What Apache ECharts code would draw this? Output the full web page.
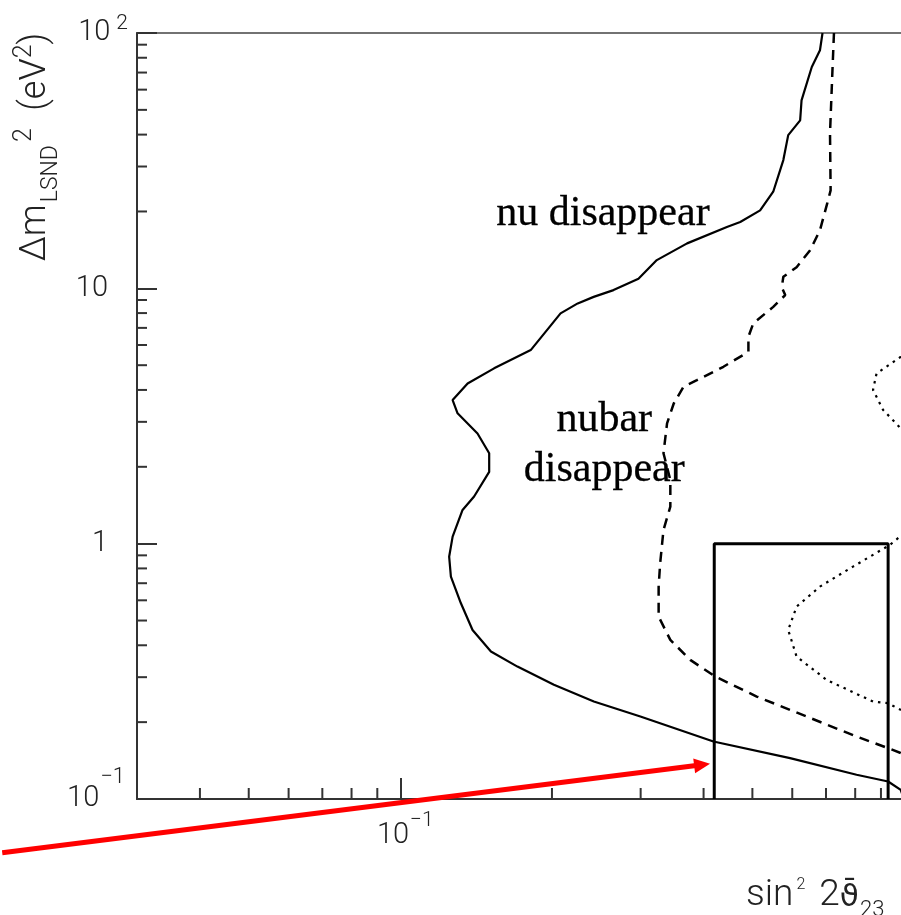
<!DOCTYPE html>
<html>
<head>
<meta charset="utf-8">
<title>nu / nubar disappearance</title>
<script src="https://cdn.jsdelivr.net/npm/echarts@6.0.0/dist/echarts.min.js"></script>
<style>
html, body { margin: 0; padding: 0; background: #fff; }
#chart { width: 901px; height: 915px; }
</style>
</head>
<body>
<div id="chart"></div>
<script>
// axis ranges (log scales)
var X_MIN = 0.03, X_MAX = 1, Y_MIN = 0.1, Y_MAX = 100;

// solid curve: "nu disappear"  [sin^2 2theta, dm^2]
var nuDisappear = [
  [0.689, 100], [0.681, 85.6], [0.656, 73.6], [0.626, 54.5], [0.622, 45.5], [0.589, 39.8],
  [0.576, 31.8], [0.550, 23.9], [0.518, 20.2], [0.473, 18.2], [0.445, 17.4], [0.371, 15.0],
  [0.323, 12.9], [0.297, 10.9], [0.265, 9.84], [0.242, 9.26], [0.225, 8.73], [0.208, 7.98],
  [0.1815, 5.73], [0.1535, 4.86], [0.136, 4.24], [0.127, 3.65], [0.1299, 3.24], [0.1423, 2.70],
  [0.1501, 2.26], [0.1501, 1.91], [0.1401, 1.53], [0.1329, 1.355], [0.127, 1.065], [0.125, 0.889],
  [0.126, 0.743], [0.1319, 0.584], [0.1391, 0.459], [0.1513, 0.378], [0.1708, 0.330], [0.2018, 0.280],
  [0.2422, 0.2408], [0.2996, 0.2103], [0.4184, 0.1679], [0.594, 0.1446], [0.805, 0.1244],
  [0.930, 0.1171], [0.985, 0.1086], [1.0, 0.1]
];

// dashed curve: "nubar disappear"
var nubarDisappear = [
  [0.726, 100], [0.721, 71.4], [0.713, 40.5], [0.715, 24.2], [0.704, 21.5], [0.681, 16.9],
  [0.651, 14.1], [0.612, 12.1], [0.576, 11.1], [0.572, 10.1], [0.581, 9.41], [0.550, 8.46],
  [0.502, 7.29], [0.491, 6.46], [0.491, 5.64], [0.438, 4.93], [0.388, 4.37], [0.365, 4.12],
  [0.349, 3.54], [0.3385, 2.96], [0.333, 2.26], [0.3436, 1.776], [0.3436, 1.396], [0.333, 1.131],
  [0.328, 0.838], [0.3257, 0.679], [0.3257, 0.518], [0.3436, 0.420], [0.3763, 0.3506],
  [0.4217, 0.3017], [0.510, 0.2519], [0.641, 0.2103], [0.805, 0.1757], [0.930, 0.1582],
  [0.985, 0.1513], [1.0, 0.145]
];

// dotted curve, two pieces that leave through the right edge
var dottedUpper = [
  [1.0, 5.75], [0.985, 5.39], [0.882, 4.64], [0.868, 4.00], [0.909, 3.34], [0.985, 2.83], [1.0, 2.72]
];
var dottedLower = [
  [1.0, 1.10], [0.985, 1.072], [0.937, 0.988], [0.792, 0.813], [0.681, 0.679], [0.612, 0.567],
  [0.589, 0.459], [0.612, 0.361], [0.702, 0.2927], [0.868, 0.2408], [0.930, 0.2372],
  [0.985, 0.2234], [1.0, 0.215]
];

// rectangle
var boxX = [0.42, 0.93];
var boxY = [0.1, 1];

// red arrow (from, to)
var arrowFrom = [0.0162, 0.0616];
var arrowTo = [0.412, 0.1373];

// annotations
var noteText = ['nu disappear', 'nubar\ndisappear'];
var notePos = [[0.155, 19.5], [0.254, 2.43]];

// minor ticks
var xMinorTicks = [0.04, 0.05, 0.06, 0.07, 0.08, 0.09, 0.2, 0.3, 0.4, 0.5, 0.6, 0.7, 0.8, 0.9];
var yMinorTicks = [0.2, 0.3, 0.4, 0.5, 0.6, 0.7, 0.8, 0.9, 2, 3, 4, 5, 6, 7, 8, 9,
                   20, 30, 40, 50, 60, 70, 80, 90];

var AX = '#333';
var LBL_FONT = 'Roboto, "Liberation Sans", sans-serif';

var chart = echarts.init(document.getElementById('chart'));

function yLabel(v) {
    var e = Math.round(Math.log10(v));
    if (e === 2) return '{n|10}{s2|2}';
    if (e === 1) return '{n|10}{sp| }';
    if (e === 0) return '{n|1}{sp| }';
    if (e === -1) return '{n|10}{s1|\u22121}';
    return '';
}
function xLabel(v) {
    var e = Math.round(Math.log10(v));
    if (Math.abs(Math.log10(v) - e) > 1e-6) return '';
    if (e === -1) return '{n|10}{s|\u22121}';
    return '';
}

function tickSeries(values, horizontal) {
    return {
        type: 'custom',
        silent: true,
        data: values.map(function (v) { return horizontal ? [v, Y_MIN] : [X_MIN, v]; }),
        renderItem: function (params, api) {
            var p = api.coord([api.value(0), api.value(1)]);
            return {
                type: 'line',
                shape: horizontal
                    ? { x1: p[0], y1: p[1], x2: p[0], y2: p[1] - 11 }
                    : { x1: p[0], y1: p[1], x2: p[0] + 10, y2: p[1] },
                style: { stroke: AX, lineWidth: 2 }
            };
        }
    };
}

var option = {
    backgroundColor: '#fff',
    animation: false,
    grid: {
        left: 137, top: 33, right: -3, bottom: 116,
        show: true, borderColor: '#444', borderWidth: 1.5, backgroundColor: 'transparent',
        containLabel: false, outerBoundsMode: 'none'
    },
    xAxis: {
        type: 'log', logBase: 10, min: X_MIN, max: X_MAX, position: 'bottom',
        axisLine: { show: true, lineStyle: { color: AX, width: 2 } },
        axisTick: { show: true, inside: true, length: 21, lineStyle: { color: AX, width: 2 } },
        splitLine: { show: false },
        axisLabel: {
            show: true, margin: 23, formatter: xLabel, color: '#222',
            showMinLabel: true, showMaxLabel: true,
            rich: {
                n: { fontSize: 29, lineHeight: 28, fontFamily: LBL_FONT, fontWeight: 300, color: '#222', padding: [0, 0, 0, 10] },
                s: { fontSize: 21, lineHeight: 28, fontFamily: LBL_FONT, fontWeight: 300, color: '#222', padding: [0, 0, 30, 1] }
            }
        }
    },
    yAxis: {
        type: 'log', logBase: 10, min: Y_MIN, max: Y_MAX, position: 'left',
        axisLine: { show: true, lineStyle: { color: AX, width: 2 } },
        axisTick: { show: true, inside: true, length: 20, lineStyle: { color: AX, width: 2 } },
        splitLine: { show: false },
        axisLabel: {
            show: true, margin: 9, formatter: yLabel, color: '#222',
            showMinLabel: true, showMaxLabel: true,
            rich: {
                n: { fontSize: 29, lineHeight: 28, fontFamily: LBL_FONT, fontWeight: 300, color: '#222' },
                s2: { fontSize: 21, lineHeight: 28, fontFamily: LBL_FONT, fontWeight: 300, color: '#222', padding: [0, 0, 18, 6] },
                s1: { fontSize: 22, lineHeight: 28, fontFamily: LBL_FONT, fontWeight: 300, color: '#222', padding: [0, 3, 44, 1] },
                sp: { width: 20, fontSize: 28, lineHeight: 28 }
            }
        }
    },
    graphic: [
        {
            type: 'text', x: 36, y: 147, rotation: Math.PI / 2, silent: true,
            style: {
                text: '{m|\u0394m}{sub|LSND}{sup|2}{m|  (eV}{sup|2}{m|)}',
                align: 'center', verticalAlign: 'middle',
                rich: {
                    m: { fontSize: 36, lineHeight: 36, fontFamily: LBL_FONT, fontWeight: 300, fill: '#222' },
                    sub: { fontSize: 23, lineHeight: 36, fontFamily: LBL_FONT, fontWeight: 300, fill: '#222', padding: [30, 3, 0, 2] },
                    sup: { fontSize: 25, lineHeight: 36, fontFamily: LBL_FONT, fontWeight: 300, fill: '#222', padding: [0, 0, 22, 0] }
                }
            }
        },
        {
            type: 'text', x: 746, y: 896, silent: true,
            style: {
                text: '{m|sin}{sup|2}{m2|2}{th|\u03D1\u0304}{sub|23}',
                align: 'left', verticalAlign: 'middle',
                rich: {
                    m: { fontSize: 37, lineHeight: 37, fontFamily: LBL_FONT, fontWeight: 300, fill: '#222' },
                    m2: { fontSize: 37, lineHeight: 37, fontFamily: LBL_FONT, fontWeight: 300, fill: '#222', padding: [0, 0, 0, 14] },
                    th: { fontSize: 31, lineHeight: 37, fontFamily: '"DejaVu Sans"', fill: '#222', padding: [4, 0, 0, 0] },
                    sup: { fontSize: 16, lineHeight: 37, fontFamily: LBL_FONT, fontWeight: 300, fill: '#222', padding: [0, 0, 22, 3] },
                    sub: { fontSize: 22, lineHeight: 37, fontFamily: LBL_FONT, fontWeight: 300, fill: '#222', padding: [28, 0, 0, 1] }
                }
            }
        }
    ],
    series: [
        {
            type: 'line', name: 'box', showSymbol: false, silent: true,
            data: [[boxX[0], boxY[0]], [boxX[0], boxY[1]], [boxX[1], boxY[1]], [boxX[1], boxY[0]]],
            lineStyle: { color: '#000', width: 3 }, z: 3
        },
        {
            type: 'line', name: 'nu disappear', showSymbol: false, silent: true,
            data: nuDisappear,
            lineStyle: { color: '#000', width: 2.2 }, z: 4
        },
        {
            type: 'line', name: 'nubar disappear', showSymbol: false, silent: true,
            data: nubarDisappear,
            lineStyle: { color: '#000', width: 2.5, type: [10, 7] }, z: 4
        },
        {
            type: 'line', name: 'dotted 1', showSymbol: false, silent: true,
            data: dottedUpper,
            lineStyle: { color: '#000', width: 2.2, type: [2.5, 5] }, z: 4
        },
        {
            type: 'line', name: 'dotted 2', showSymbol: false, silent: true,
            data: dottedLower,
            lineStyle: { color: '#000', width: 2.2, type: [2.5, 5] }, z: 4
        },
        tickSeries(xMinorTicks, true),
        tickSeries(yMinorTicks, false),
        {
            // annotation texts placed at data coordinates
            type: 'custom', silent: true, clip: false, z: 5,
            data: notePos.map(function (p, i) { return [p[0], p[1], i]; }),
            renderItem: function (params, api) {
                var i = api.value(2);
                var p = api.coord([api.value(0), api.value(1)]);
                return {
                    type: 'text', x: p[0], y: p[1],
                    style: {
                        text: noteText[i],
                        fill: '#000',
                        font: '42px "Liberation Serif", "Times New Roman", serif',
                        lineHeight: 50,
                        align: i === 0 ? 'left' : 'center',
                        verticalAlign: 'middle',
                        stroke: '#000', lineWidth: 0.3
                    }
                };
            }
        },
        {
            type: 'custom', silent: true, clip: false, z: 6,
            encode: { x: [0, 2], y: [1, 3] },
            data: [[arrowFrom[0], arrowFrom[1], arrowTo[0], arrowTo[1]]],
            renderItem: function (params, api) {
                var a = api.coord([api.value(0), api.value(1)]);
                var b = api.coord([api.value(2), api.value(3)]);
                var dx = b[0] - a[0], dy = b[1] - a[1];
                var len = Math.sqrt(dx * dx + dy * dy);
                var ux = dx / len, uy = dy / len;
                var headL = 16, headW = 7.5;
                var bx = b[0] - ux * headL, by = b[1] - uy * headL;
                return {
                    type: 'group',
                    children: [
                        {
                            type: 'line',
                            shape: { x1: a[0], y1: a[1], x2: bx + ux * 2, y2: by + uy * 2 },
                            style: { stroke: '#ff0000', lineWidth: 5 }
                        },
                        {
                            type: 'polygon',
                            shape: { points: [[b[0], b[1]], [bx - uy * headW, by + ux * headW], [bx + uy * headW, by - ux * headW]] },
                            style: { fill: '#ff0000' }
                        }
                    ]
                };
            }
        }
    ]
};

chart.setOption(option);
</script>
</body>
</html>
